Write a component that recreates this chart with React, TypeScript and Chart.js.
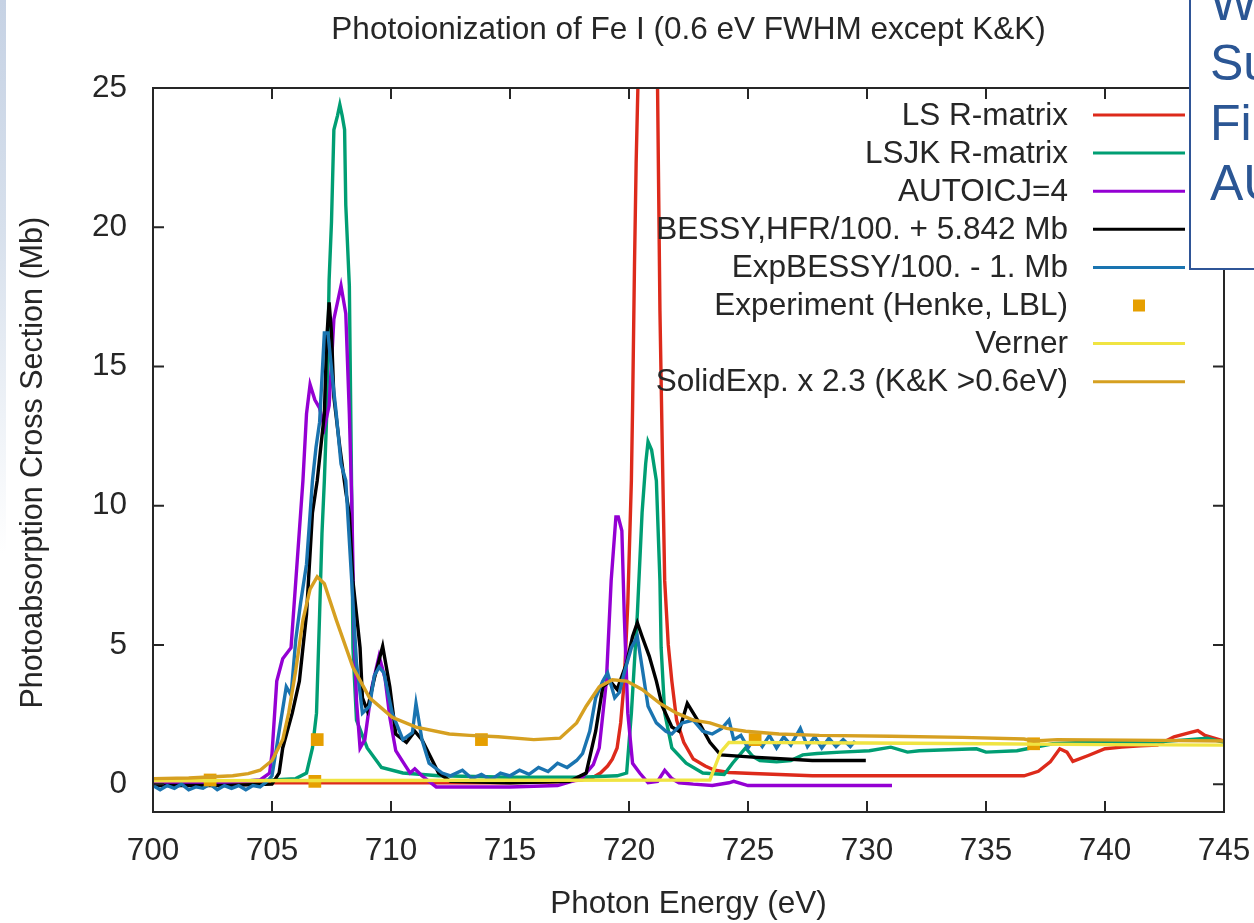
import React, { useEffect, useRef } from 'react';
import { Chart, registerables } from 'chart.js';

Chart.register(...registerables);

// ---------- data ----------
const xTicks = [700, 705, 710, 715, 720, 725, 730, 735, 740, 745];
const yTicks = [0, 5, 10, 15, 20, 25];

const chartTitle = 'Photoionization of Fe I (0.6 eV FWHM except K&K)';
const xTitle = 'Photon Energy (eV)';
const yTitle = 'Photoabsorption Cross Section (Mb)';

const seriesLabels = [
  'LS R-matrix',
  'LSJK R-matrix',
  'AUTOICJ=4',
  'BESSY,HFR/100. + 5.842 Mb',
  'ExpBESSY/100. - 1. Mb',
  'Experiment (Henke, LBL)',
  'Verner',
  'SolidExp. x 2.3 (K&K >0.6eV)',
];

const lsRmatrix: [number, number][] = [
  [700, 0.05], [705, 0.05], [710, 0.05], [715, 0.05], [717, 0.08], [718, 0.15], [718.5, 0.25],
  [718.8, 0.4], [719.1, 0.65], [719.3, 0.9], [719.5, 1.3], [719.65, 2.2], [719.8, 3.7], [719.95, 6.5],
  [720.1, 10.9], [720.15, 13.5], [720.23, 18.6], [720.3, 22.3], [720.4, 26], [720.55, 33], [720.75, 37],
  [720.95, 36], [721.1, 30], [721.2, 25], [721.3, 17], [721.4, 12], [721.5, 7.3], [721.65, 5],
  [721.8, 3.7], [722.0, 2.3], [722.3, 1.5], [722.7, 0.9], [723.2, 0.65], [723.6, 0.5], [724.2, 0.42],
  [725.2, 0.38], [727.7, 0.3], [730, 0.3], [733, 0.3], [736.6, 0.3], [737.2, 0.46], [737.7, 0.8],
  [738.1, 1.27], [738.4, 1.15], [738.65, 0.82], [739.3, 1.03], [740, 1.27], [740.7, 1.33], [741.5, 1.38],
  [742.2, 1.4], [742.9, 1.7], [743.6, 1.86], [743.9, 1.92], [744.2, 1.75], [744.8, 1.6], [745, 1.55],
];

const lsjkRmatrix: [number, number][] = [
  [700, 0.1], [703, 0.1], [705, 0.15], [706, 0.2], [706.45, 0.4], [706.7, 1.3], [706.87, 2.55],
  [707.0, 6.1], [707.1, 9], [707.2, 10.9], [707.3, 13.3], [707.4, 18.1], [707.5, 20.2], [707.6, 23.5],
  [707.75, 24.0], [707.85, 24.4], [707.95, 24.0], [708.05, 23.5], [708.1, 20.8], [708.25, 17.9],
  [708.35, 10.2], [708.4, 4.9], [708.55, 2.3], [709.0, 1.3], [709.6, 0.6], [710.5, 0.4], [712, 0.3],
  [715, 0.25], [718, 0.25], [719.5, 0.3], [719.9, 0.4], [720.1, 2.55], [720.35, 6.1], [720.55, 9.75],
  [720.7, 11.5], [720.8, 12.3], [720.95, 12.0], [721.15, 10.9], [721.3, 7.3], [721.35, 4.9],
  [721.5, 2.55], [721.8, 1.3], [722.4, 0.75], [723.1, 0.4], [724.0, 0.35], [724.35, 0.75],
  [724.9, 1.3], [725.2, 1.0], [725.5, 0.85], [726.2, 0.8], [726.8, 0.85], [727.3, 1.05], [727.9, 1.1],
  [728.9, 1.15], [730.1, 1.2], [731.0, 1.33], [731.7, 1.15], [732.2, 1.2], [734.6, 1.27], [735.0, 1.15],
  [736.3, 1.2], [737.8, 1.45], [739, 1.5], [742, 1.5], [743.5, 1.6], [744.3, 1.65], [745, 1.5],
];

const autoicj: [number, number][] = [
  [700, 0.05], [703, 0.05], [704.5, 0.15], [704.9, 0.4], [705.0, 1.1], [705.2, 3.7], [705.45, 4.5],
  [705.8, 4.9], [706.0, 7.3], [706.3, 10.9], [706.45, 13.3], [706.6, 14.35], [706.8, 13.8],
  [707.0, 13.5], [707.2, 12.8], [707.4, 13.6], [707.6, 16.7], [707.9, 17.9], [708.1, 16.9],
  [708.25, 13.3], [708.35, 10.2], [708.45, 5.5], [708.55, 3.0], [708.7, 1.3], [708.9, 1.6],
  [709.2, 3.5], [709.5, 4.6], [709.75, 3.8], [709.95, 2.4], [710.2, 1.2], [710.5, 0.8], [710.8, 0.4],
  [711.0, 0.55], [711.3, 0.3], [711.9, -0.1], [715, -0.1], [717.0, -0.05], [718.0, 0.2], [718.5, 0.7],
  [718.75, 1.3], [719.05, 3.7], [719.25, 7.3], [719.45, 9.6], [719.55, 9.6], [719.7, 9.1], [719.8, 6.1],
  [719.95, 2.55], [720.15, 0.75], [720.45, 0.4], [720.8, 0.05], [721.2, 0.1], [721.5, 0.5], [721.8, 0.2],
  [722.1, 0.05], [722.7, 0.0], [723.5, -0.05], [724.2, 0.05], [724.4, 0.1], [725, -0.05], [731.05, -0.05],
];

const bessyHfr: [number, number][] = [
  [700, -0.05], [703, -0.05], [705.0, 0.0], [705.3, 0.4], [705.45, 1.3], [705.85, 2.55], [706.15, 3.7],
  [706.45, 6.1], [706.7, 9.75], [706.9, 10.9], [707.2, 13.3], [707.3, 16.0], [707.4, 17.3], [707.5, 16.2],
  [707.6, 13.9], [707.85, 12.1], [708.1, 10.5], [708.25, 9.7], [708.4, 7.3], [708.55, 6.1], [708.7, 4.9],
  [708.8, 3.1], [709.0, 2.65], [709.3, 3.8], [709.65, 4.95], [709.95, 3.5], [710.2, 1.8], [710.65, 1.5],
  [711.0, 1.9], [711.3, 1.6], [712.0, 0.4], [712.5, 0.1], [715, 0.05], [717.5, 0.1], [718.2, 0.4],
  [718.6, 1.9], [718.9, 3.5], [719.2, 3.7], [719.5, 3.4], [719.9, 4.35], [720.15, 5.3], [720.35, 5.8],
  [720.55, 5.3], [720.85, 4.6], [721.15, 3.7], [721.4, 2.8], [721.8, 2.05], [722.1, 1.9], [722.45, 2.9],
  [722.95, 2.2], [723.4, 1.5], [723.85, 1.05], [725.2, 0.97], [727.7, 0.85], [729.95, 0.85],
];

const expBessy: [number, number][] = [
  [700, -0.05], [700.3, -0.2], [700.6, -0.05], [700.9, -0.15], [701.2, 0.0], [701.5, -0.2], [701.8, -0.1],
  [702.1, -0.15], [702.4, 0.0], [702.7, -0.2], [703.0, -0.05], [703.3, -0.15], [703.6, -0.05],
  [703.9, -0.2], [704.2, -0.05], [704.5, -0.1], [704.8, 0.1], [705.0, 0.3], [705.3, 1.9], [705.6, 3.5],
  [705.8, 3.2], [706.0, 5.2], [706.2, 6.5], [706.45, 7.9], [706.6, 9.7], [706.7, 10.9], [706.85, 12.1],
  [707.0, 13.0], [707.2, 16.2], [707.35, 16.2], [707.55, 14.5], [707.7, 13.3], [707.9, 11.5],
  [708.1, 10.9], [708.35, 7.3], [708.55, 4.35], [708.8, 2.55], [709.1, 2.8], [709.3, 3.9], [709.5, 4.2],
  [709.7, 4.0], [710.05, 2.55], [710.5, 1.6], [710.9, 1.85], [711.05, 2.9], [711.3, 1.6], [711.6, 0.75],
  [712.15, 0.4], [712.5, 0.3], [713.0, 0.5], [713.4, 0.2], [713.8, 0.35], [714.2, 0.15], [714.6, 0.4],
  [715.0, 0.3], [715.4, 0.5], [715.8, 0.35], [716.2, 0.6], [716.6, 0.45], [717.0, 0.75], [717.4, 0.6],
  [717.8, 0.85], [718.05, 1.1], [718.35, 1.9], [718.6, 3.1], [718.9, 3.7], [719.1, 4.0], [719.4, 3.1],
  [719.6, 3.3], [719.8, 4.0], [720.1, 4.9], [720.35, 5.3], [720.55, 4.2], [720.8, 2.8], [721.15, 2.2],
  [721.55, 1.9], [721.8, 1.8], [722.25, 2.2], [722.7, 2.3], [723.1, 1.9], [723.5, 1.8], [723.9, 2.0],
  [724.2, 2.3], [724.4, 1.6], [724.7, 1.75], [725.0, 1.3], [725.3, 1.7], [725.6, 1.35], [725.9, 1.75],
  [726.2, 1.3], [726.5, 1.7], [726.8, 1.4], [727.2, 2.0], [727.5, 1.35], [727.8, 1.7], [728.1, 1.3],
  [728.4, 1.65], [728.7, 1.35], [729.0, 1.6], [729.3, 1.35], [729.5, 1.55],
];

const henkeExp: [number, number][] = [
  [702.4, 0.15], [706.8, 0.1], [706.9, 1.6], [713.8, 1.6], [725.3, 1.6], [737.0, 1.45],
];

const verner: [number, number][] = [
  [700, 0.12], [723.4, 0.15], [723.6, 0.6], [723.85, 1.15], [724.2, 1.5], [730, 1.48], [735, 1.45],
  [740, 1.42], [745, 1.4],
];

const solidExp: [number, number][] = [
  [700, 0.2], [701.5, 0.22], [703.35, 0.3], [704.0, 0.38], [704.5, 0.5], [705.0, 0.85], [705.45, 1.6],
  [705.7, 2.55], [706.0, 4.1], [706.3, 5.9], [706.6, 7.0], [706.9, 7.45], [707.2, 7.2], [707.7, 5.9],
  [708.4, 4.2], [709.1, 3.1], [710.05, 2.4], [711.05, 2.05], [712.45, 1.8], [713.3, 1.75], [714.5, 1.7],
  [716.0, 1.6], [717.1, 1.65], [717.8, 2.2], [718.2, 2.8], [718.75, 3.5], [719.3, 3.75], [719.9, 3.7],
  [720.55, 3.4], [721.3, 2.9], [722.0, 2.55], [722.7, 2.3], [723.4, 2.2], [724.1, 2.0], [724.9, 1.9],
  [726.3, 1.8], [728.0, 1.75], [731, 1.72], [734, 1.68], [736.6, 1.62], [737.0, 1.55], [738, 1.6],
  [741, 1.58], [745, 1.55],
];

const seriesData = [lsRmatrix, lsjkRmatrix, autoicj, bessyHfr, expBessy, henkeExp, verner, solidExp];
const seriesColors = ['#dd2a1b', '#009e73', '#9400d3', '#000000', '#1a74b0', '#e69f00', '#f0e442', '#d6a021'];

// ---------- styling ----------
const FONT = '"Liberation Sans", Arial, Helvetica, sans-serif';
const TEXT = '#262626';

const framePlugin = {
  id: 'gnuFrame',
  afterDatasetsDraw(chart: any) {
    const { ctx, chartArea: a, scales } = chart;
    ctx.save();
    ctx.strokeStyle = TEXT;
    ctx.lineWidth = 2;
    ctx.strokeRect(a.left, a.top, a.right - a.left, a.bottom - a.top);
    const L = 11;
    ctx.beginPath();
    for (const t of scales.x.ticks) {
      const px = scales.x.getPixelForValue(t.value);
      ctx.moveTo(px, a.bottom);
      ctx.lineTo(px, a.bottom - L);
      ctx.moveTo(px, a.top);
      ctx.lineTo(px, a.top + L);
    }
    for (const t of scales.y.ticks) {
      const py = scales.y.getPixelForValue(t.value);
      ctx.moveTo(a.left, py);
      ctx.lineTo(a.left + L, py);
      ctx.moveTo(a.right, py);
      ctx.lineTo(a.right - L, py);
    }
    ctx.stroke();

    // gnuplot-style key: right-justified text, sample on the right
    const textRight = a.right - 156;
    const sampleL = a.right - 131;
    const sampleR = a.right - 39;
    const row0 = a.top + 27;
    const rowH = 38.1;
    ctx.font = `31.5px ${FONT}`;
    ctx.textAlign = 'right';
    ctx.textBaseline = 'middle';
    chart.data.datasets.forEach((ds: any, i: number) => {
      const y = row0 + i * rowH;
      ctx.fillStyle = TEXT;
      ctx.fillText(ds.label, textRight, y + 1);
      if (ds.showLine === false) {
        const s = 12;
        ctx.fillStyle = ds.backgroundColor;
        ctx.fillRect((sampleL + sampleR) / 2 - s / 2, y - s / 2, s, s);
      } else {
        ctx.strokeStyle = ds.borderColor;
        ctx.lineWidth = 3;
        ctx.beginPath();
        ctx.moveTo(sampleL, y);
        ctx.lineTo(sampleR, y);
        ctx.stroke();
      }
    });
    ctx.restore();
  },
};

export default function App() {
  const ref = useRef<HTMLCanvasElement>(null);

  useEffect(() => {
    if (!ref.current) return;
    const n = seriesLabels.length;
    const datasets = seriesLabels.map((label, i) => {
      const pts = seriesData[i].map(([x, y]) => ({ x, y }));
      const isPoints = i === 5;
      return {
        label,
        data: pts,
        order: n - 1 - i,
        borderColor: seriesColors[i],
        backgroundColor: seriesColors[i],
        borderWidth: isPoints ? 0 : 3.4,
        showLine: !isPoints,
        pointRadius: isPoints ? 9 : 0,
        pointStyle: 'rect',
        pointHoverRadius: 0,
        tension: 0,
        fill: false,
      };
    });

    const chart = new Chart(ref.current, {
      type: 'line',
      data: { datasets: datasets as any },
      options: {
        animation: false,
        responsive: true,
        maintainAspectRatio: false,
        events: [],
        layout: { padding: { left: 0, right: 30, top: 0, bottom: 0 } },
        plugins: {
          legend: { display: false },
          tooltip: { enabled: false },
          title: {
            display: true,
            text: chartTitle,
            fullSize: false,
            color: TEXT,
            font: { family: FONT, size: 31.5, weight: 'normal' as any },
            padding: { top: 11, bottom: 39.2 },
          },
        },
        scales: {
          x: {
            type: 'linear',
            min: 700,
            max: 745,
            afterBuildTicks: (s: any) => {
              s.ticks = xTicks.map((v) => ({ value: v }));
            },
            afterFit: (s: any) => {
              s.height = 111;
              s.paddingLeft = 0;
              s.paddingRight = 0;
            },
            grid: { display: false, drawTicks: false },
            border: { display: false },
            ticks: {
              autoSkip: false,
              maxRotation: 0,
              padding: 20,
              color: TEXT,
              font: { family: FONT, size: 31.5 },
            },
            title: {
              display: true,
              text: xTitle,
              color: TEXT,
              font: { family: FONT, size: 31.5 },
              padding: { top: 0, bottom: 0 },
            },
          },
          y: {
            type: 'linear',
            min: -1,
            max: 25,
            afterBuildTicks: (s: any) => {
              s.ticks = yTicks.map((v) => ({ value: v }));
            },
            afterFit: (s: any) => {
              s.width = 153;
              s.paddingTop = 0;
              s.paddingBottom = 0;
            },
            grid: { display: false, drawTicks: false },
            border: { display: false },
            ticks: {
              padding: 26,
              color: TEXT,
              font: { family: FONT, size: 31.5 },
            },
            title: {
              display: true,
              text: yTitle + '   ',
              color: TEXT,
              font: { family: FONT, size: 30.5 },
              padding: { top: 15, bottom: 0 },
            },
          },
        },
      },
      plugins: [framePlugin],
    });
    return () => chart.destroy();
  }, []);

  return (
    <div
      style={{
        position: 'fixed',
        left: 0,
        top: 0,
        width: 1254,
        height: 923,
        background: '#ffffff',
        overflow: 'hidden',
      }}
    >
      <div style={{ position: 'absolute', left: 0, top: 0, width: 1254, height: 923 }}>
        <canvas ref={ref} />
      </div>
      <div
        style={{
          position: 'absolute',
          left: 0,
          top: 0,
          width: 6,
          height: 923,
          background: 'linear-gradient(to bottom, #c6d2e4 0%, #d7e0ec 25%, #eef2f7 45%, #ffffff 60%)',
        }}
      />
      <div
        style={{
          position: 'absolute',
          left: 1189,
          top: -3,
          width: 100,
          height: 273,
          boxSizing: 'border-box',
          border: '2px solid #2f5597',
          background: '#ffffff',
          overflow: 'hidden',
        }}
      >
        <div
          style={{
            position: 'absolute',
            left: 19,
            top: -26,
            fontFamily: FONT,
            fontSize: 50,
            lineHeight: '60px',
            color: '#2b5694',
            whiteSpace: 'nowrap',
          }}
        >
          <div>W</div>
          <div>Su</div>
          <div>Fir</div>
          <div>AU</div>
        </div>
      </div>
    </div>
  );
}
